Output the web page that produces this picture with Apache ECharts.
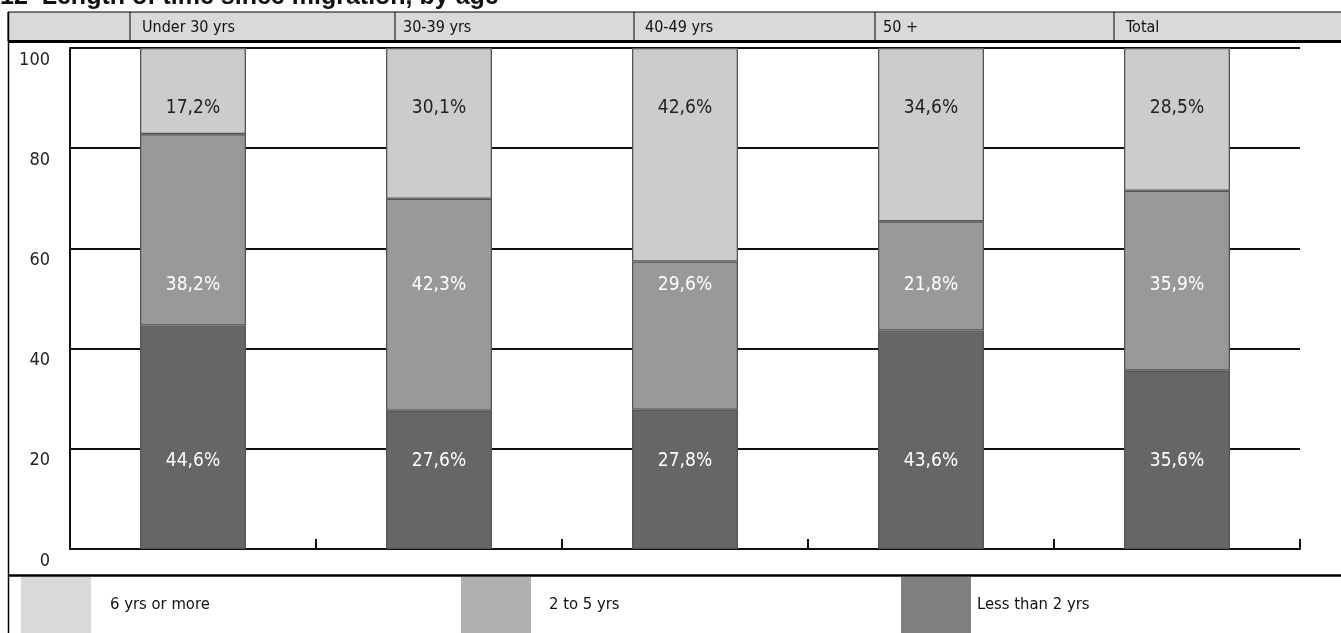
<!DOCTYPE html>
<html><head><meta charset="utf-8">
<script src="https://cdn.jsdelivr.net/npm/echarts@6/dist/echarts.min.js"></script>
<style>html,body{margin:0;padding:0;background:#fff}#c{width:1341px;height:633px}</style>
</head><body><div id="c"></div>
<script>
// ---- data ----
const categories = ['Under 30 yrs', '30-39 yrs', '40-49 yrs', '50 +', 'Total'];
const lessThan2 = [44.6, 27.6, 27.8, 43.6, 35.6];
const twoToFive = [38.2, 42.3, 29.6, 21.8, 35.9];
const sixPlus = [17.2, 30.1, 42.6, 34.6, 28.5];
const seriesNames = ['Less than 2 yrs', '2 to 5 yrs', '6 yrs or more'];
const yTicks = [0, 20, 40, 60, 80, 100];
const titleText = '12  Length of time since migration, by age';

// ---- style / layout ----
const FONT = "'Liberation Sans Narrow', 'DejaVu Sans Condensed', 'Roboto Condensed', 'Liberation Sans', sans-serif";
const barColors = ['#666666', '#999999', '#cccccc'];
const legendColors = ['#808080', '#b0b0b0', '#d9d9d9'];
const labelColors = ['#ffffff', '#ffffff', '#222222'];
const labelRows = [17.6, 52.7, 88.0]; // label row heights (axis units)
const headerDividers = [130, 395, 634, 875, 1114];
const headerTextX = [142, 403, 645, 883, 1126];

const chart = echarts.init(document.getElementById('c'), null, {renderer: 'canvas'});
const seriesData = [lessThan2, twoToFive, sixPlus];

function fmt(v) { return v.toFixed(1).replace('.', ',') + '%'; }

const series = seriesData.map((d, i) => ({
  name: seriesNames[i],
  type: 'bar',
  stack: 'all',
  barWidth: 106,
  data: d,
  itemStyle: {color: barColors[i], borderColor: '#555555', borderWidth: 1.3},
  label: {
    show: true, position: 'inside',
    formatter: p => fmt(p.value),
    fontFamily: FONT, fontSize: 19, color: labelColors[i]
  },
  labelLayout: function (p) {
    return {
      x: p.rect.x + p.rect.width / 2,
      y: chart.convertToPixel({yAxisIndex: 0}, labelRows[i]),
      align: 'center', verticalAlign: 'middle'
    };
  },
  emphasis: {disabled: true},
  animation: false
}));

const legendLefts = [901, 461, 21];
const legendPads = [1, 13, 14];
const legends = seriesNames.map((n, i) => ({
  show: true, selectedMode: false,
  left: legendLefts[i], top: 577, padding: 0,
  itemWidth: 70, itemHeight: 56, itemGap: 0,
  icon: 'rect',
  data: [{name: n, itemStyle: {color: legendColors[i], borderWidth: 0}}],
  itemStyle: {borderWidth: 0},
  textStyle: {fontFamily: FONT, fontSize: 16.5, color: '#111', padding: [5, 0, 0, legendPads[i]]}
}));

const graphics = [];
// title (clipped at top)
graphics.push({type: 'text', left: 0, top: -15, silent: true,
  style: {text: titleText, fontFamily: "'Liberation Sans', Arial, sans-serif", fontWeight: 'bold', fontSize: 25, fill: '#111'}});
// header band
graphics.push({type: 'rect', silent: true, shape: {x: 8, y: 12, width: 1345, height: 29},
  style: {fill: '#d9d9d9', stroke: '#000', lineWidth: 1}});
headerDividers.forEach(x => graphics.push({type: 'line', silent: true,
  shape: {x1: x, y1: 12, x2: x, y2: 41}, style: {stroke: '#000', lineWidth: 1}}));
categories.forEach((c, i) => graphics.push({type: 'text', silent: true, x: headerTextX[i], y: 28,
  style: {text: c, fontFamily: FONT, fontSize: 16, fill: '#111', verticalAlign: 'middle', align: 'left'}}));
// thick line under header
graphics.push({type: 'line', silent: true, shape: {x1: 8, y1: 41.5, x2: 1341, y2: 41.5}, style: {stroke: '#000', lineWidth: 3}});
// left border
graphics.push({type: 'line', silent: true, shape: {x1: 8.5, y1: 12, x2: 8.5, y2: 633}, style: {stroke: '#000', lineWidth: 1.5}});
// legend top line
graphics.push({type: 'line', silent: true, shape: {x1: 8, y1: 575.5, x2: 1341, y2: 575.5}, style: {stroke: '#000', lineWidth: 2.5}});

chart.setOption({
  animation: false,
  backgroundColor: '#fff',
  grid: {left: 70, right: 41, top: 48, bottom: 84, containLabel: false},
  xAxis: {
    type: 'category', data: categories, boundaryGap: true,
    axisLine: {show: true, lineStyle: {color: '#111', width: 2}},
    axisTick: {show: true, inside: true, length: 10, lineStyle: {color: '#111', width: 2}},
    axisLabel: {show: false},
    splitLine: {show: false}
  },
  yAxis: {
    type: 'value', min: 0, max: 100, interval: 20,
    axisLine: {show: true, lineStyle: {color: '#111', width: 2}},
    axisTick: {show: false},
    splitLine: {show: true, lineStyle: {color: '#111', width: 2}},
    axisLabel: {
      fontFamily: FONT, fontSize: 18, color: '#222', margin: 20,
      verticalAlign: 'top', padding: [3, 0, 0, 0],
      formatter: v => yTicks.includes(v) ? String(v) : ''
    }
  },
  legend: legends,
  series: series,
  graphic: graphics
});
</script>
</body></html>
